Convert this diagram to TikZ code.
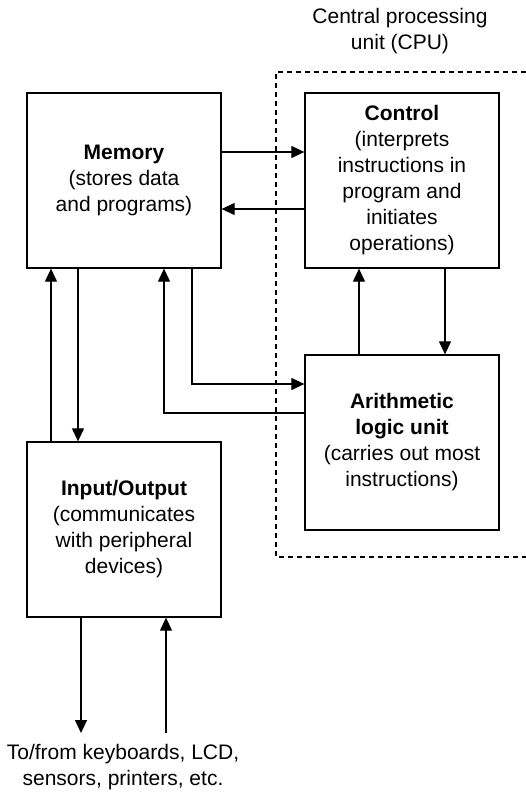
\documentclass[tikz,border=0pt]{standalone}
\usepackage{fontspec}
\setmainfont{Liberation Sans}
\usetikzlibrary{arrows.meta}
\begin{document}
\begin{tikzpicture}[x=1pt,y=-1pt,
  box/.style={draw, line width=1.3pt, minimum width=194pt, minimum height=175pt, inner sep=0pt, align=center, font=\fontsize{21}{26}\selectfont},
  lbl/.style={align=center, font=\fontsize{21}{26}\selectfont},
  arr/.style={line width=1.2pt, -{Triangle[length=13pt,width=12pt]}},
  cpu/.style={line width=1.2pt, dash pattern=on 5pt off 4pt}]
\useasboundingbox (0,0) rectangle (526,792);
\node[box] (mem) at (124,180.5) {\textbf{Memory}\\(stores data\\and programs)};
\node[box] (ctl) at (402,180.5) {\textbf{Control}\\(interprets\\instructions in\\program and\\initiates\\operations)};
\node[box] (alu) at (402,442.5) {\textbf{Arithmetic}\\\textbf{logic unit}\\(carries out most\\instructions)};
\node[box] (io) at (124,529.5) {\textbf{Input/Output}\\(communicates\\with peripheral\\devices)};
\node[lbl] (cpulbl) at (400,31) {Central processing\\unit (CPU)};
\node[lbl] (ext) at (123,767) {To/from keyboards, LCD,\\sensors, printers, etc.};
\draw[cpu] (526,72) -- (276,72) -- (276,557) -- (526,557);
\draw[arr] (mem.east |- 0,152) -- (ctl.west |- 0,152);
\draw[arr] (ctl.west |- 0,209) -- (mem.east |- 0,209);
\draw[arr] (359,0 |- alu.north) -- (359,0 |- ctl.south);
\draw[arr] (445,0 |- ctl.south) -- (445,0 |- alu.north);
\draw[arr] (51,0 |- io.north) -- (51,0 |- mem.south);
\draw[arr] (78,0 |- mem.south) -- (78,0 |- io.north);
\draw[arr] (alu.west |- 0,413) -| (164,0 |- mem.south);
\draw[arr] (192,0 |- mem.south) |- (alu.west |- 0,384);
\coordinate (outend) at (81,733);
\coordinate (instart) at (166,733);
\draw[arr] (outend |- io.south) -- (outend);
\draw[arr] (instart) -- (instart |- io.south);
\end{tikzpicture}
\end{document}
